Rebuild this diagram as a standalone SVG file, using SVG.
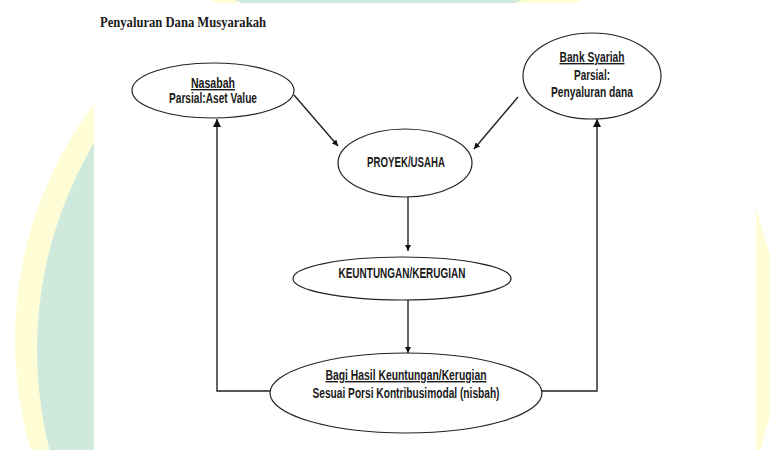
<svg xmlns="http://www.w3.org/2000/svg" width="770" height="450" viewBox="0 0 770 450">
<defs>
<style>
.bgY{fill:#FEFDD6}
.bgG{fill:#CFEADC}
.node{fill:#ffffff;stroke:#222;stroke-width:1.2}
.t{font-family:"Liberation Sans",Arial,sans-serif;font-weight:bold;font-size:14px;fill:#1a1a1a;text-anchor:middle}
.u{text-decoration:underline}
.c{fill:none;stroke:#222;stroke-width:1.4}
.title{font-family:"Liberation Serif","Times New Roman",serif;font-weight:bold;font-size:15px;fill:#1a1a1a}
</style>
<clipPath id="leftClip"><rect x="0" y="0" width="94" height="450"/></clipPath>
<marker id="ah" viewBox="0 0 10 10" refX="10" refY="5" markerWidth="6" markerHeight="6" orient="auto" markerUnits="userSpaceOnUse">
<path d="M0,0 L10,5 L0,10 z" fill="#111"/>
</marker>
<marker id="ahL" viewBox="0 0 10 10" refX="10" refY="5" markerWidth="8" markerHeight="8" orient="auto" markerUnits="userSpaceOnUse">
<path d="M0,0 L10,5 L0,10 z" fill="#111"/>
</marker>
</defs>
<rect x="0" y="0" width="770" height="450" fill="#ffffff"/>
<g id="background">
<g clip-path="url(#leftClip)">
<circle class="bgY" cx="407" cy="340" r="392"/>
<circle class="bgG" cx="441" cy="350" r="404"/>
</g>
<path class="bgY" d="M210,0 L582,0 L575,3 L218,3 Z"/>
<path class="bgG" d="M235,0 L522,0 L515,3 L242,3 Z"/>
<path class="bgY" d="M756,207 L770,255 L770,415 L761,450 L756,450 Z"/>
</g>
<text class="title" x="100" y="27" textLength="166" lengthAdjust="spacingAndGlyphs">Penyaluran Dana Musyarakah</text>
<g id="connectors">
<line class="c" x1="294" y1="95" x2="338" y2="146" marker-end="url(#ah)"/>
<line class="c" x1="518" y1="97" x2="474" y2="149" marker-end="url(#ah)"/>
<line class="c" x1="408" y1="197" x2="408" y2="251" marker-end="url(#ah)"/>
<line class="c" x1="408" y1="300" x2="408" y2="353" marker-end="url(#ah)"/>
<polyline class="c" points="270,391 217,391 217,119" stroke-width="1.7" marker-end="url(#ahL)"/>
<polyline class="c" points="542,391 597,391 597,119" stroke-width="1.7" marker-end="url(#ahL)"/>
</g>
<g id="nasabah">
<ellipse class="node" cx="213" cy="90.5" rx="81" ry="27.5"/>
<text class="t u" x="213" y="88" textLength="44" lengthAdjust="spacingAndGlyphs">Nasabah</text>
<text class="t" x="213" y="103" textLength="88" lengthAdjust="spacingAndGlyphs">Parsial:Aset Value</text>
</g>
<g id="bank-syariah">
<ellipse class="node" cx="592" cy="76" rx="69" ry="43"/>
<text class="t u" x="592" y="62" textLength="65" lengthAdjust="spacingAndGlyphs">Bank Syariah</text>
<text class="t" x="592" y="80" textLength="36" lengthAdjust="spacingAndGlyphs">Parsial:</text>
<text class="t" x="592" y="97" textLength="82" lengthAdjust="spacingAndGlyphs">Penyaluran dana</text>
</g>
<g id="proyek">
<ellipse class="node" cx="405" cy="163" rx="67" ry="34"/>
<text class="t" x="406" y="167" textLength="78" lengthAdjust="spacingAndGlyphs">PROYEK/USAHA</text>
</g>
<g id="keuntungan">
<ellipse class="node" cx="402" cy="278.5" rx="109" ry="21.5"/>
<text class="t" x="402" y="278" textLength="127" lengthAdjust="spacingAndGlyphs">KEUNTUNGAN/KERUGIAN</text>
</g>
<g id="bagi-hasil">
<ellipse class="node" cx="406" cy="393" rx="136" ry="40" stroke-width="1.8"/>
<text class="t u" x="406" y="380" textLength="161" lengthAdjust="spacingAndGlyphs">Bagi Hasil Keuntungan/Kerugian</text>
<text class="t" x="406" y="398" textLength="187" lengthAdjust="spacingAndGlyphs">Sesuai Porsi Kontribusimodal (nisbah)</text>
</g>
</svg>
